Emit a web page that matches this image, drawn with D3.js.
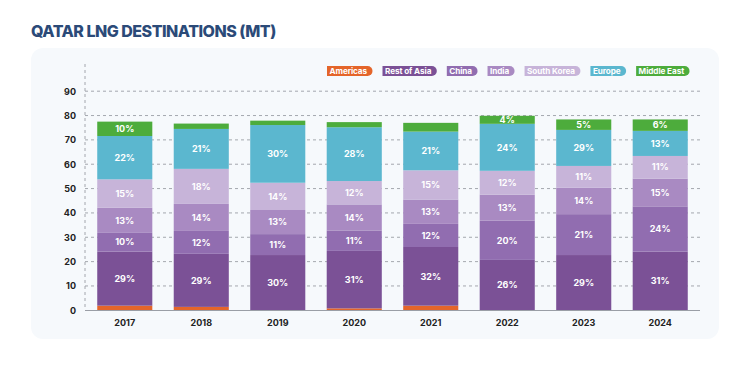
<!DOCTYPE html>
<html><head><meta charset="utf-8">
<script src="https://cdn.jsdelivr.net/npm/d3@7/dist/d3.min.js"></script>
<style>
html,body{margin:0;padding:0;background:#fff;}
svg{display:block;font-family:Inter,"Noto Sans",sans-serif;}
</style></head><body>
<script>
const years = ["2017","2018","2019","2020","2021","2022","2023","2024"];
const seriesNames = ["Americas","Rest of Asia","China","India","South Korea","Europe","Middle East"];
const colors = ["#e4652a","#7b5196","#916db0","#a98ac2","#c7b4d9","#5bb7cf","#4dac3c"];
// values in MT
const americas   = [1.9, 1.4, 0.0, 0.8, 1.9, 0.0, 0.0, 0.0];
const restOfAsia = [22.2,21.8,22.7,23.6,24.1,20.7,22.7,24.1];
const china      = [7.7, 9.4, 8.6, 8.4, 9.5,16.1,16.8,18.6];
const india      = [10.3,11.1,9.9,10.7,10.0,10.7,10.9,11.4];
const southKorea = [11.7,14.4,11.2,9.6,12.0, 9.8, 8.9, 9.3];
const europe     = [17.8,16.4,23.7,22.1,15.9,19.3,14.8,10.3];
const middleEast = [5.9, 2.2, 1.8, 2.1, 3.6, 3.3, 4.3, 4.7];
// share labels printed on the bars
const lblAmericas   = ["","","","","","","",""];
const lblRestOfAsia = ["29%","29%","30%","31%","32%","26%","29%","31%"];
const lblChina      = ["10%","12%","11%","11%","12%","20%","21%","24%"];
const lblIndia      = ["13%","14%","13%","14%","13%","13%","14%","15%"];
const lblSouthKorea = ["15%","18%","14%","12%","15%","12%","11%","11%"];
const lblEurope     = ["22%","21%","30%","28%","21%","24%","29%","13%"];
const lblMiddleEast = ["10%","","","","","4%","5%","6%"];
const yTicks = [0,10,20,30,40,50,60,70,80,90];

const seriesVals = [americas,restOfAsia,china,india,southKorea,europe,middleEast];
const seriesLbls = [lblAmericas,lblRestOfAsia,lblChina,lblIndia,lblSouthKorea,lblEurope,lblMiddleEast];

const W=750,H=365;
const svg=d3.select("body").append("svg").attr("width",W).attr("height",H);

svg.append("text").attr("x",31).attr("y",37).text("QATAR LNG DESTINATIONS (MT)")
  .attr("fill","#2b4a78").attr("font-size",16).attr("font-weight",800)
  .attr("font-family","Inter,sans-serif").attr("letter-spacing","-0.5");

svg.append("rect").attr("x",31).attr("y",48).attr("width",688).attr("height",291)
  .attr("rx",12).attr("fill","#f6f9fc");

const x=d3.scaleBand().domain(years).range([85,700]).paddingInner(0.28).paddingOuter(0.16);
const y=d3.scaleLinear().domain([0,90]).range([310.3,91.2]);

// gridlines
const g=svg.append("g");
g.selectAll("line.grid").data(yTicks.filter(t=>t>0)).join("line")
  .attr("x1",85).attr("x2",700).attr("y1",d=>y(d)).attr("y2",d=>y(d))
  .attr("stroke","#8f939b").attr("stroke-width",0.8).attr("stroke-dasharray","3,3");
g.append("line").attr("x1",85).attr("x2",85).attr("y1",64).attr("y2",310)
  .attr("stroke","#8f939b").attr("stroke-width",0.8).attr("stroke-dasharray","3,3");

// y axis labels
const yAxis=d3.axisLeft(y).tickValues(yTicks).tickSize(0).tickPadding(0);
const ya=svg.append("g").attr("transform","translate(76,0)").call(yAxis);
ya.select(".domain").remove();
ya.selectAll("text").attr("font-size",9).attr("font-weight",700).attr("fill","#222")
  .attr("font-family","Inter,sans-serif");

// stack
const table=years.map((yr,i)=>{const o={year:yr};seriesNames.forEach((s,j)=>o[s]=seriesVals[j][i]);return o;});
const stack=d3.stack().keys(seriesNames)(table);

const bars=svg.append("g");
stack.forEach((layer,j)=>{
  bars.selectAll(null).data(layer).join("rect")
    .attr("x",d=>x(d.data.year)).attr("width",x.bandwidth())
    .attr("y",d=>y(d[1])).attr("height",d=>Math.max(0,y(d[0])-y(d[1])))
    .attr("fill",colors[j]);
});
stack.forEach((layer,j)=>{
  bars.selectAll(null).data(layer).join("text")
    .attr("x",d=>x(d.data.year)+x.bandwidth()/2)
    .attr("y",d=>(y(d[0])+y(d[1]))/2+3.2)
    .attr("text-anchor","middle").attr("font-size",9).attr("font-weight",700)
    .attr("fill","#fff").attr("font-family","Inter,sans-serif")
    .text((d,i)=>seriesLbls[j][i]);
});

// baseline
svg.append("line").attr("x1",85).attr("x2",700).attr("y1",310.5).attr("y2",310.5)
  .attr("stroke","#9a9ea6").attr("stroke-width",1);

// x axis labels
const xAxis=d3.axisBottom(x).tickSize(0).tickPadding(0);
const xa=svg.append("g").attr("transform","translate(0,320)").call(xAxis);
xa.select(".domain").remove();
xa.selectAll("text").attr("font-size",9).attr("font-weight",700).attr("fill","#222")
  .attr("font-family","Inter,sans-serif");

// legend badges
const legend=svg.append("g");
let lx=327;
seriesNames.forEach((s,j)=>{
  const t=legend.append("text").attr("x",lx+2.5).attr("y",74.2).text(s)
    .attr("font-size",8.2).attr("font-weight",700).attr("fill","#fff")
    .attr("font-family","Inter,sans-serif").attr("letter-spacing","-0.1");
  const w=t.node().getComputedTextLength()+8;
  const h=10, y0=66;
  legend.insert("path","text").attr("d",
    `M${lx},${y0} H${lx+w-h/2} A${h/2},${h/2} 0 0 1 ${lx+w-h/2},${y0+h} H${lx} Z`)
    .attr("fill",colors[j]);
  lx+=w+10;
});
</script>
</body></html>
